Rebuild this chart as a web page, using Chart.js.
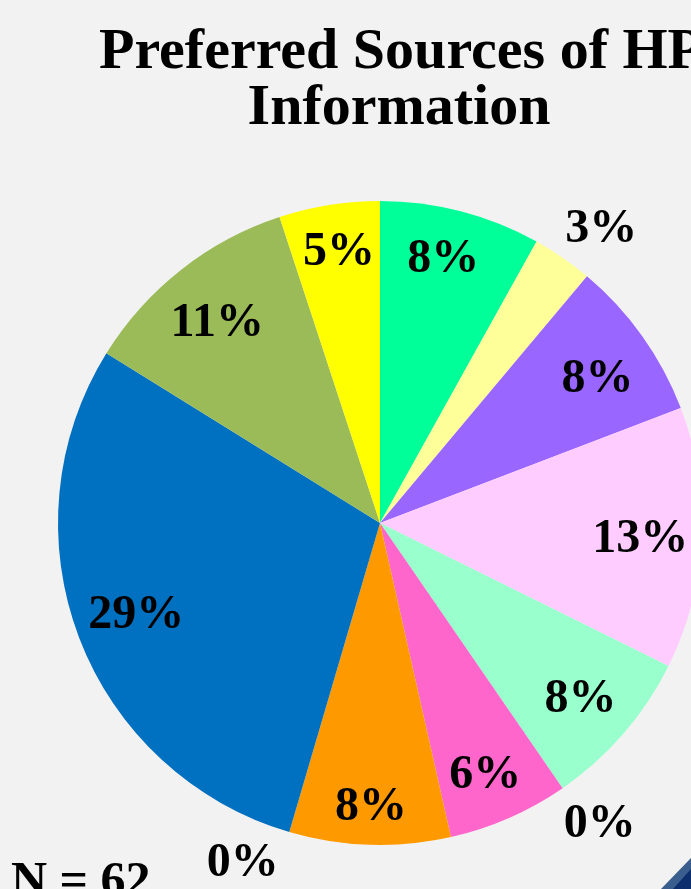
<!DOCTYPE html>
<html>
<head>
<meta charset="utf-8">
<script src="https://cdn.jsdelivr.net/npm/chart.js@4.4.1/dist/chart.umd.min.js"></script>
<style>
  html, body { margin: 0; padding: 0; background: #F2F2F2; }
  #wrap { position: relative; width: 691px; height: 889px; overflow: hidden; background: #F2F2F2; }
  #c { position: absolute; left: 0; top: 0; }
  #deco { position: absolute; left: 0; top: 0; }
</style>
</head>
<body>
<div id="wrap">
  <canvas id="c" width="760" height="889"></canvas>
  <svg id="deco" width="691" height="889">
    <polygon points="661,889 691,858 691,889" fill="#3A5E8E"/>
    <polygon points="673,889 691,869 691,889" fill="#0C2E6C"/>
  </svg>
</div>
<script>
// ---- data ----
const categories = ['Source 1','Source 2','Source 3','Source 4','Source 5','Source 6','Source 7','Source 8','Source 9','Source 10','Source 11','Source 12'];
const percentValues = [8, 3, 8, 13, 8, 0, 6, 8, 0, 29, 11, 5];
const titleLines = ['Preferred Sources of HPV', 'Information'];
const noteText = 'N = 62';

// ---- style ----
const sliceColors = ['#00FF99','#FFFF99','#9966FF','#FFCCFF','#99FFCC','#FF3333','#FF66CC','#FF9900','#CC3300','#0070C0','#9BBB59','#FFFF00'];
const labelRadius = [0.84, 1.14, 0.81, 0.81, 0.83, 1.16, 0.85, 0.885, 1.14, 0.81, 0.80, 0.85];
const labelAngleShift = [-1, 2.5, 2, 1, 0.5, -1.5, 1, 0, 5.6, 0, -1, 0.5]; // degrees

const labelPlugin = {
  id: 'sliceLabels',
  afterDatasetsDraw(chart) {
    const ctx = chart.ctx;
    const meta = chart.getDatasetMeta(0);
    ctx.save();
    ctx.fillStyle = '#000';
    ctx.font = 'bold 48px "Liberation Serif", "Times New Roman", serif';
    ctx.textAlign = 'center';
    ctx.textBaseline = 'middle';
    meta.data.forEach((arc, i) => {
      const p = arc.getProps(['x','y','startAngle','endAngle','outerRadius'], true);
      const mid = (p.startAngle + p.endAngle) / 2 + labelAngleShift[i] * Math.PI / 180;
      const r = p.outerRadius * labelRadius[i];
      const x = p.x + Math.cos(mid) * r;
      const y = p.y + Math.sin(mid) * r;
      ctx.fillText(percentValues[i] + '%', x, y);
    });
    ctx.restore();
  }
};

const textPlugin = {
  id: 'slideText',
  afterDraw(chart) {
    const ctx = chart.ctx;
    ctx.save();
    ctx.fillStyle = '#000';
    ctx.textBaseline = 'alphabetic';
    ctx.font = 'bold 58px "Liberation Serif", "Times New Roman", serif';
    ctx.textAlign = 'left';
    ctx.fillText(titleLines[0], 99, 68);
    ctx.textAlign = 'center';
    ctx.fillText(titleLines[1], 399, 124);
    ctx.textAlign = 'left';
    ctx.font = 'bold 50px "Liberation Serif", "Times New Roman", serif';
    ctx.fillText(noteText, 11, 896);
    ctx.restore();
  }
};

new Chart(document.getElementById('c'), {
  type: 'pie',
  data: {
    labels: categories,
    datasets: [{
      data: percentValues,
      backgroundColor: sliceColors,
      borderWidth: 0
    }]
  },
  options: {
    responsive: false,
    animation: false,
    layout: { padding: { left: 58, right: 58, top: 201, bottom: 44 } },
    plugins: {
      legend: { display: false },
      title: { display: false },
      tooltip: { enabled: false }
    }
  },
  plugins: [labelPlugin, textPlugin]
});
</script>
</body>
</html>
